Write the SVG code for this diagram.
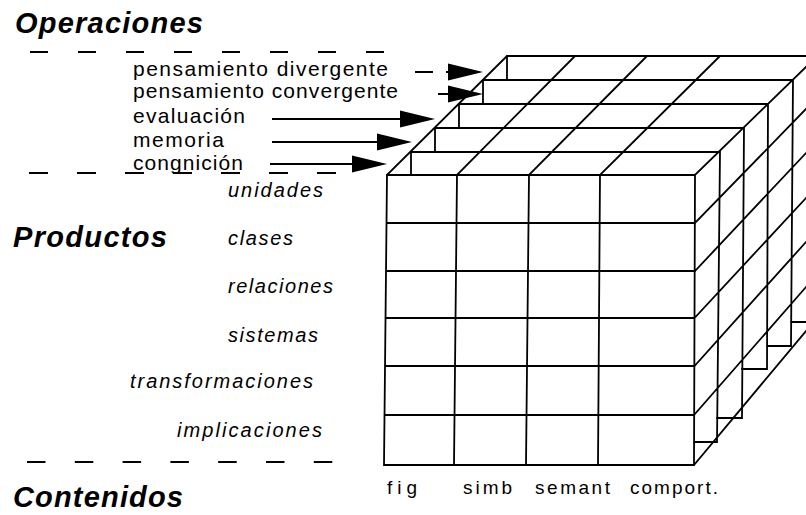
<svg xmlns="http://www.w3.org/2000/svg" width="806" height="515" viewBox="0 0 806 515">
<defs>
<style>
.ln{stroke:#000;stroke-width:1.8;fill:none;stroke-linecap:square}
.dash{stroke:#000;stroke-width:2;fill:none}
.arr{stroke:#000;stroke-width:2;fill:none}
text{font-family:"Liberation Sans",Arial,sans-serif;fill:#000}
.h{font-size:29px;font-weight:bold;font-style:italic}
.op{font-size:21px}
.pr{font-size:20px;font-style:italic}
.ct{font-size:19px}
</style>
<marker id="head" markerUnits="userSpaceOnUse" markerWidth="36" markerHeight="18" refX="0" refY="8.5" orient="auto" overflow="visible">
<path d="M0,0 L35,8.5 L0,17 Z" fill="#000"/>
</marker>
</defs>
<rect width="806" height="515" fill="#fff"/>

<g id="guides">
<line class="dash" x1="30" y1="52" x2="385" y2="52" stroke-dasharray="18 30"/>
<line class="dash" x1="29" y1="173" x2="337" y2="173" stroke-dasharray="19 29"/>
<line class="dash" x1="27" y1="462" x2="333" y2="462" stroke-dasharray="18.5 29.3"/>
</g>

<g id="cube">
<path class="ln" d="M387,175 L384,465 M457,175 L454,465 M529,175 L526,465 M600,175 L598,465 M695,175 L694,465
M387,175 H695 M386.5,223 H695 M386,271 H695 M385.5,318 H694.5 M385,366 H694.5 M384.5,415 H694 M384,465 H694
M411,152 H720 M435,128 H744 M459,104 H768 M483,80 H793 M507,56 H806
M411,152 V175 M435,128 V152 M459,104 V128 M483,80 V104 M507,56 V80
M387,175 L507,56 M457,175 L575,56 M529,175 L647,56 M600,175 L720,56 M695,175 L806,67
M720,152 L717,442 M744,128 L742,418 M768,104 L767,369 M793,80 L791,346
M694,442 H717 M717,418 H742 M742,369 H767 M767,346 H791 M791,322 H806
M695,223 L806,109 M695,271 L806,153 M694.5,318 L806,198 M694.5,366 L806,242 M694,415 L806,287 M694,465 L806,331"/>
</g>

<g id="connectors">
<path class="arr" d="M415,72 H433 M446,72 H448" marker-end="url(#head)"/>
<path class="arr" d="M438,94 H448" marker-end="url(#head)"/>
<path class="arr" d="M272,119 H400" marker-end="url(#head)"/>
<path class="arr" d="M272,142 H377" marker-end="url(#head)"/>
<path class="arr" d="M270,164 H352" marker-end="url(#head)"/>
</g>

<g id="heading-operaciones"><text class="h" x="15" y="33" textLength="188" lengthAdjust="spacing">Operaciones</text></g>
<g id="heading-productos"><text class="h" x="13" y="247" textLength="154" lengthAdjust="spacing">Productos</text></g>
<g id="heading-contenidos"><text class="h" x="13" y="507" textLength="170" lengthAdjust="spacing">Contenidos</text></g>

<g id="op-divergente"><text class="op" x="133" y="76" textLength="255" lengthAdjust="spacing">pensamiento divergente</text></g>
<g id="op-convergente"><text class="op" x="133" y="98" textLength="265" lengthAdjust="spacing">pensamiento convergente</text></g>
<g id="op-evaluacion"><text class="op" x="133" y="123" textLength="112" lengthAdjust="spacing">evaluación</text></g>
<g id="op-memoria"><text class="op" x="133" y="147" textLength="91" lengthAdjust="spacing">memoria</text></g>
<g id="op-congnicion"><text class="op" x="133" y="170" textLength="110" lengthAdjust="spacing">congnición</text></g>

<g id="pr-unidades"><text class="pr" x="228" y="197" textLength="95" lengthAdjust="spacing">unidades</text></g>
<g id="pr-clases"><text class="pr" x="228" y="245" textLength="65" lengthAdjust="spacing">clases</text></g>
<g id="pr-relaciones"><text class="pr" x="228" y="293" textLength="105" lengthAdjust="spacing">relaciones</text></g>
<g id="pr-sistemas"><text class="pr" x="228" y="342" textLength="90" lengthAdjust="spacing">sistemas</text></g>
<g id="pr-transformaciones"><text class="pr" x="130" y="388" textLength="183" lengthAdjust="spacing">transformaciones</text></g>
<g id="pr-implicaciones"><text class="pr" x="177" y="437" textLength="145" lengthAdjust="spacing">implicaciones</text></g>

<g id="ct-fig"><text class="ct" x="387" y="494" textLength="30" lengthAdjust="spacing">fig</text></g>
<g id="ct-simb"><text class="ct" x="463" y="494" textLength="49" lengthAdjust="spacing">simb</text></g>
<g id="ct-semant"><text class="ct" x="535" y="494" textLength="75" lengthAdjust="spacing">semant</text></g>
<g id="ct-comport"><text class="ct" x="630" y="494" textLength="88" lengthAdjust="spacing">comport.</text></g>
</svg>
